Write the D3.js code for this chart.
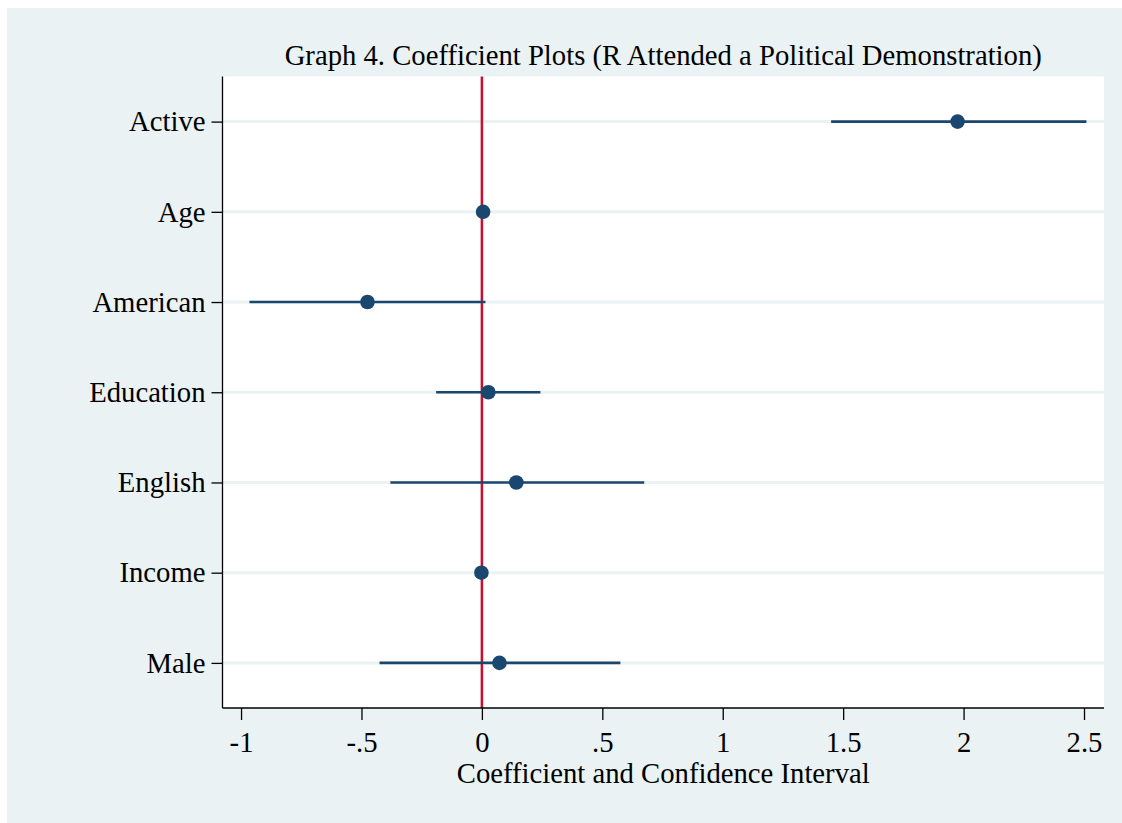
<!DOCTYPE html>
<html>
<head>
<meta charset="utf-8">
<script src="https://cdn.jsdelivr.net/npm/d3@7"></script>
<style>
  body { margin: 0; background: #fff; }
  text { font-family: "Liberation Serif", "Times New Roman", serif; fill: #000; }
</style>
</head>
<body>
<div id="chart"></div>
<script>
// coefficient estimates
const variables = ["Active", "Age", "American", "Education", "English", "Income", "Male"];
const coef  = [1.975, 0.005, -0.475, 0.027, 0.143, -0.002, 0.073];
const lower = [1.45, -0.003, -0.965, -0.19, -0.38, -0.006, -0.425];
const upper = [2.51, 0.013, 0.015, 0.243, 0.674, 0.002, 0.575];
const xTicks = [-1, -0.5, 0, 0.5, 1, 1.5, 2, 2.5];
const xTickLabels = ["-1", "-.5", "0", ".5", "1", "1.5", "2", "2.5"];

const width = 1122, height = 823;
const plot = { left: 222.5, right: 1104, top: 76.5, bottom: 708 };
const bg = "#eaf2f3", navy = "#1a476f", red = "#c8102e";
const fontSize = "28.7px";

const svg = d3.select("#chart").append("svg")
    .attr("width", width)
    .attr("height", height);

svg.append("rect")
    .attr("x", 7).attr("y", 8)
    .attr("width", width - 7).attr("height", height - 8)
    .attr("fill", bg);

svg.append("rect")
    .attr("x", plot.left).attr("y", plot.top)
    .attr("width", plot.right - plot.left).attr("height", plot.bottom - plot.top)
    .attr("fill", "#fff");

const x = d3.scaleLinear()
    .domain([-1.077, 2.583])
    .range([plot.left, plot.right]);

const y = d3.scalePoint()
    .domain(variables)
    .range([plot.top, plot.bottom])
    .padding(0.5);

// gridlines
svg.selectAll(".grid")
    .data(variables)
    .enter().append("line")
    .attr("class", "grid")
    .attr("x1", plot.left).attr("x2", plot.right)
    .attr("y1", d => y(d)).attr("y2", d => y(d))
    .attr("stroke", bg)
    .attr("stroke-width", 3);

// reference line at zero
svg.append("line")
    .attr("x1", x(0)).attr("x2", x(0))
    .attr("y1", plot.top).attr("y2", plot.bottom)
    .attr("stroke", red)
    .attr("stroke-width", 2.5);

const rows = variables.map((v, i) => ({ name: v, b: coef[i], lo: lower[i], hi: upper[i] }));

svg.selectAll(".ci")
    .data(rows)
    .enter().append("line")
    .attr("class", "ci")
    .attr("x1", d => x(d.lo)).attr("x2", d => x(d.hi))
    .attr("y1", d => y(d.name)).attr("y2", d => y(d.name))
    .attr("stroke", navy)
    .attr("stroke-width", 2.6);

svg.selectAll(".pt")
    .data(rows)
    .enter().append("circle")
    .attr("class", "pt")
    .attr("cx", d => x(d.b))
    .attr("cy", d => y(d.name))
    .attr("r", 7.3)
    .attr("fill", navy);

// x axis
const xAxis = d3.axisBottom(x)
    .tickValues(xTicks)
    .tickFormat((d, i) => xTickLabels[i])
    .tickSize(12)
    .tickPadding(11.5);

const gx = svg.append("g")
    .attr("transform", `translate(0,${plot.bottom})`)
    .call(xAxis);
gx.select(".domain").attr("d", `M${plot.left},0H${plot.right}`).attr("stroke-width", 1.3);
gx.selectAll(".tick line").attr("stroke-width", 1.3);
gx.selectAll(".tick text")
    .style("font-family", "Liberation Serif")
    .style("font-size", fontSize);

// y axis
const yAxis = d3.axisLeft(y)
    .tickSize(11)
    .tickPadding(6);

const gy = svg.append("g")
    .attr("transform", `translate(${plot.left},0)`)
    .call(yAxis);
gy.select(".domain").attr("d", `M0,${plot.top}V${plot.bottom}`).attr("stroke-width", 1.3);
gy.selectAll(".tick line").attr("stroke-width", 1.3);
gy.selectAll(".tick text")
    .style("font-family", "Liberation Serif")
    .style("font-size", fontSize);

svg.append("text")
    .attr("x", (plot.left + plot.right) / 2)
    .attr("y", 65)
    .attr("text-anchor", "middle")
    .style("font-size", fontSize)
    .text("Graph 4. Coefficient Plots (R Attended a Political Demonstration)");

svg.append("text")
    .attr("x", (plot.left + plot.right) / 2)
    .attr("y", 783)
    .attr("text-anchor", "middle")
    .style("font-size", fontSize)
    .text("Coefficient and Confidence Interval");
</script>
</body>
</html>
